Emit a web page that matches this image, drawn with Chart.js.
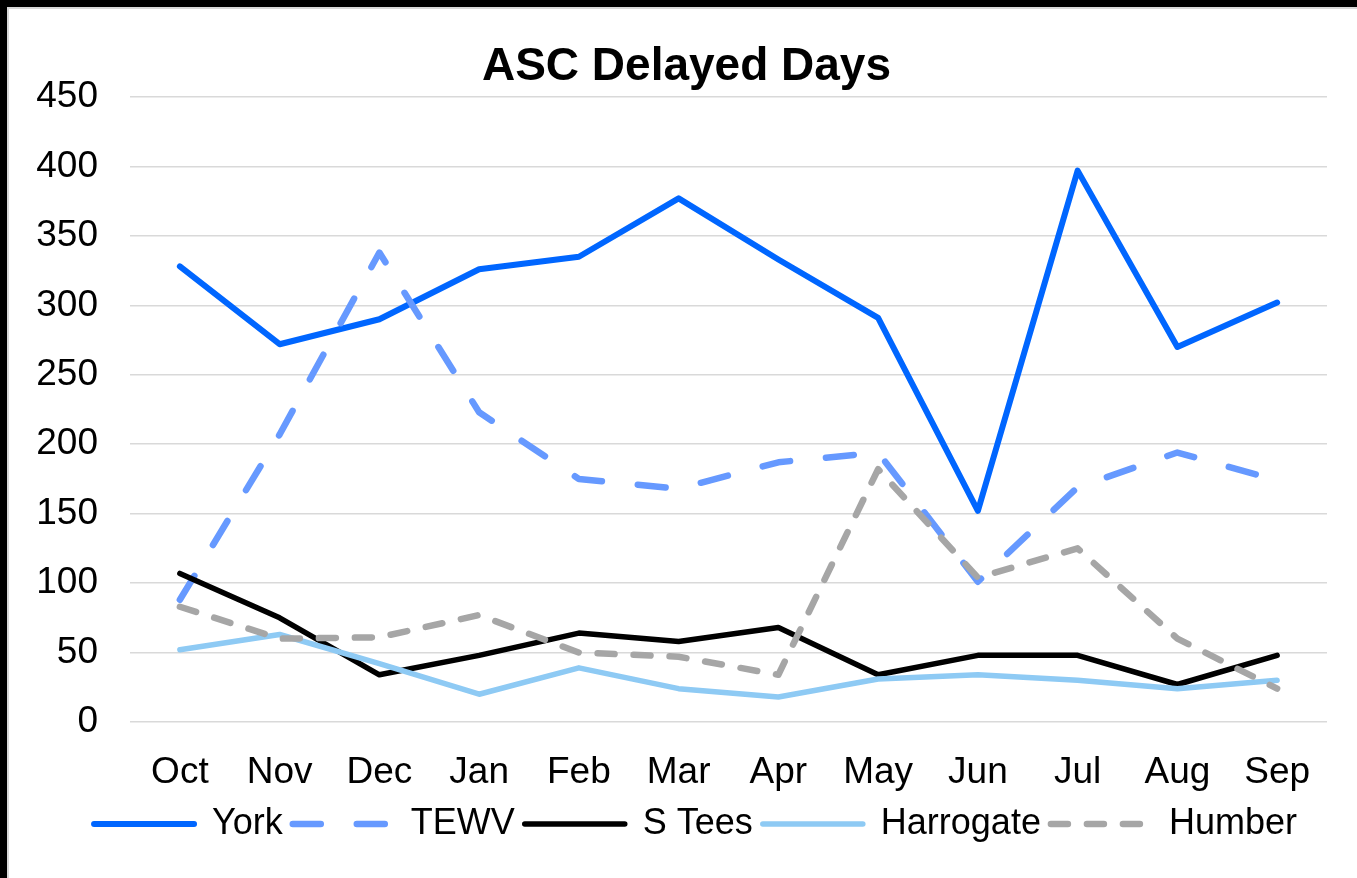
<!DOCTYPE html>
<html>
<head>
<meta charset="utf-8">
<script src="https://cdn.jsdelivr.net/npm/chart.js@4.4.1/dist/chart.umd.min.js"></script>
<style>
  html, body { margin: 0; padding: 0; background: #fff; }
  #wrap { position: relative; width: 1357px; height: 878px; overflow: hidden; }
  #c { position: absolute; left: 0; top: 0; }
  .bar { position: absolute; }
</style>
</head>
<body>
<div id="wrap">
  <canvas id="c" width="1357" height="878"></canvas>
  <div class="bar" style="left:0;top:0;width:1357px;height:7px;background:#000"></div>
  <div class="bar" style="left:0;top:0;width:7px;height:878px;background:#000"></div>
  <div class="bar" style="left:7px;top:7px;width:1350px;height:2px;background:#d9d9d9"></div>
  <div class="bar" style="left:7px;top:7px;width:2px;height:871px;background:#d9d9d9"></div>
</div>
<script>
const months = ['Oct','Nov','Dec','Jan','Feb','Mar','Apr','May','Jun','Jul','Aug','Sep'];
const york      = [328, 272, 290, 326, 335, 377, 333, 291, 152, 397, 270, 302];
const tewv      = [88, 207, 338, 223, 175, 168, 187, 194, 101, 169, 194, 174];
const sTees     = [107, 75, 34, 48, 64, 58, 68, 34, 48, 48, 27, 48];
const harrogate = [52, 63, 42, 20, 39, 24, 18, 31, 34, 30, 24, 30];
const humber    = [83, 60, 61, 77, 50, 47, 34, 182, 104, 125, 60, 24];
const yTicks = [0, 50, 100, 150, 200, 250, 300, 350, 400, 450];

const FONT = "'Liberation Sans', Arial, sans-serif";

function ds(label, data, color, width, dash, order) {
  return {
    label, data,
    borderColor: color, backgroundColor: color,
    borderWidth: width, borderDash: dash,
    borderCapStyle: 'round', borderJoinStyle: 'round',
    pointRadius: 0, pointHoverRadius: 0, tension: 0, fill: false,
    order
  };
}

const shiftPlugin = {
  id: 'shiftBoxes',
  afterLayout(chart) {
    if (chart.legend) { chart.legend.left += 22; chart.legend.right += 22; }
    if (chart.titleBlock) { chart.titleBlock.left += 13; chart.titleBlock.right += 13; }
  }
};

new Chart(document.getElementById('c'), {
  type: 'line',
  data: {
    labels: months,
    datasets: [
      ds('York', york, '#0066ff', 6, [], 4),
      ds('TEWV', tewv, '#6699ff', 6.5, [28, 36], 3),
      ds('S Tees', sTees, '#000000', 5.5, [], 2),
      ds('Harrogate', harrogate, '#8ecaf4', 5.5, [], 1),
      ds('Humber', humber, '#a6a6a6', 6.5, [17, 19], 0)
    ]
  },
  plugins: [shiftPlugin],
  options: {
    responsive: false,
    animation: false,
    devicePixelRatio: 1,
    layout: { padding: { left: 20, right: 30, top: 0, bottom: 26 } },
    plugins: {
      tooltip: { enabled: false },
      title: {
        display: true,
        text: 'ASC Delayed Days',
        color: '#000',
        font: { family: FONT, size: 46, weight: 'bold', lineHeight: 1.2 },
        padding: { top: 39.4, bottom: 2.4 }
      },
      legend: {
        position: 'bottom',
        labels: {
          color: '#000',
          font: { family: FONT, size: 36 },
          usePointStyle: true,
          pointStyle: 'line',
          pointStyleWidth: 100,
          boxWidth: 100,
          padding: 10,
          sort: (a, b) => a.datasetIndex - b.datasetIndex,
          generateLabels: (chart) => {
            const items = Chart.defaults.plugins.legend.labels.generateLabels(chart);
            items.forEach(it => {
              const d = chart.data.datasets[it.datasetIndex];
              it.lineDash = d.borderDash;
              it.lineCap = 'round';
              it.lineWidth = d.borderWidth;
              it.strokeStyle = d.borderColor;
              it.fillStyle = d.borderColor;
              it.pointStyle = 'line';
            });
            return items;
          }
        }
      }
    },
    scales: {
      x: {
        offset: true,
        grid: { display: false },
        border: { display: false },
        ticks: { color: '#000', font: { family: FONT, size: 37 }, padding: 21, maxRotation: 0, autoSkip: false },
        afterFit: (s) => { s.height = 74; }
      },
      y: {
        min: 0, max: 450,
        afterBuildTicks: (s) => { s.ticks = yTicks.map(v => ({ value: v })); },
        grid: { color: '#d9d9d9', lineWidth: 1.5, drawTicks: false },
        border: { display: false },
        ticks: { color: '#000', font: { family: FONT, size: 37 }, padding: 32 },
        afterFit: (s) => { s.width = 110; }
      }
    }
  }
});
</script>
</body>
</html>
